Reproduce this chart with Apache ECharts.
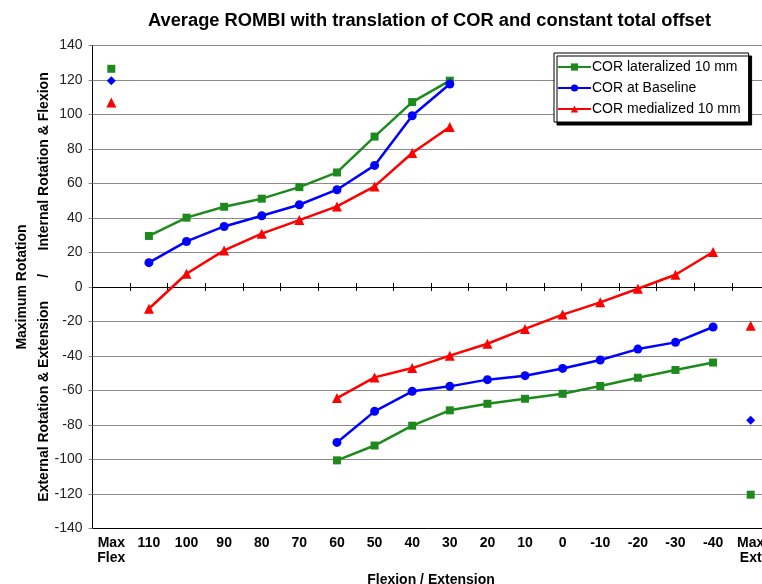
<!DOCTYPE html>
<html>
<head>
<meta charset="utf-8">
<script src="https://cdn.jsdelivr.net/npm/echarts@6/dist/echarts.min.js"></script>
<style>
html,body{margin:0;padding:0;background:#fff;}
#c{width:762px;height:584px;}
</style>
</head>
<body>
<div id="c"></div>
<script>
// Categories (Flexion / Extension angle)
const categories = ['Max\nFlex','110','100','90','80','70','60','50','40','30','20','10','0','-10','-20','-30','-40','Max\nExt'];
const flexCats = ['110','100','90','80','70','60','50','40','30'];
const extCats = ['60','50','40','30','20','10','0','-10','-20','-30','-40'];
const seriesNames = ['COR lateralized 10 mm','COR at Baseline','COR medialized 10 mm'];

// COR lateralized 10 mm
const latFlex = [29.6, 40.2, 46.5, 51.2, 57.9, 66.4, 87.2, 107.2, 119.6];
const latExt = [-100.5, -91.9, -80.4, -71.5, -67.7, -64.8, -61.9, -57.4, -52.6, -48.1, -43.8];
const latMax = [126.5, -120.4]; // Max Flex, Max Ext

// COR at Baseline
const baseFlex = [14.1, 26.4, 35.1, 41.3, 47.7, 56.4, 70.5, 99.3, 117.7];
const baseExt = [-90.1, -72.1, -60.5, -57.6, -53.7, -51.4, -47.2, -42.3, -36.0, -32.1, -23.2];
const baseMax = [119.6, -77.3];

// COR medialized 10 mm
const medFlex = [-12.6, 7.7, 21.2, 30.9, 38.8, 46.7, 58.3, 77.7, 92.8];
const medExt = [-64.4, -52.4, -47.0, -39.8, -32.9, -24.3, -16.0, -8.9, -1.0, 7.1, 20.3];
const medMax = [107.0, -22.4];

const yTicks = {min: -140, max: 140, interval: 20};

function place(cats, vals) {
  const arr = categories.map(() => null);
  cats.forEach((c, i) => { arr[categories.indexOf(c)] = vals[i]; });
  return arr;
}
function placeMax(vals) {
  const arr = categories.map(() => null);
  arr[0] = vals[0];
  arr[categories.length - 1] = vals[1];
  return arr;
}

const FONT = 'Liberation Sans, Arial, Helvetica, sans-serif';
const colors = ['#1E8A1E', '#0000FF', '#FF0000'];
const symbols = ['rect', 'circle', 'triangle'];
const symSizes = [8, 9, 10];
const maxSymbols = ['rect', 'diamond', 'triangle'];
const maxSizes = [8, 9, 10];
const flexData = [latFlex, baseFlex, medFlex];
const extData = [latExt, baseExt, medExt];
const maxData = [latMax, baseMax, medMax];

const series = [];
for (let k = 0; k < 3; k++) {
  const common = {
    name: seriesNames[k],
    type: 'line',
    xAxisIndex: 0,
    color: colors[k],
    symbol: symbols[k],
    symbolSize: symSizes[k],
    showAllSymbol: true,
    connectNulls: false,
    lineStyle: {width: 2.5, color: colors[k]},
    itemStyle: {color: colors[k], opacity: 1},
    emphasis: {disabled: true},
    animation: false
  };
  series.push(Object.assign({}, common, {data: place(flexCats, flexData[k])}));
  series.push(Object.assign({}, common, {data: place(extCats, extData[k])}));
}
for (let k = 0; k < 3; k++) {
  series.push({
    name: seriesNames[k],
    type: 'scatter',
    xAxisIndex: 0,
    symbol: maxSymbols[k],
    symbolSize: maxSizes[k],
    itemStyle: {color: colors[k], opacity: 1},
    data: placeMax(maxData[k]),
    emphasis: {disabled: true},
    animation: false
  });
}

const chart = echarts.init(document.getElementById('c'), null, {renderer: 'canvas'});
chart.setOption({
  animation: false,
  backgroundColor: '#fff',
  textStyle: {fontFamily: FONT},
  title: {
    text: 'Average ROMBI with translation of COR and constant total offset',
    left: 143, top: 7,
    textStyle: {fontFamily: FONT, fontSize: 18.3, fontWeight: 'bold', color: '#000'}
  },
  legend: {
    data: seriesNames,
    orient: 'vertical',
    left: 554, top: 53,
    padding: [7, 8, 6, 3],
    itemWidth: 33, itemHeight: 9,
    itemGap: 7,
    backgroundColor: '#fff',
    borderColor: '#000', borderWidth: 1,
    shadowColor: '#000', shadowBlur: 0, shadowOffsetX: 3, shadowOffsetY: 3,
    textStyle: {fontFamily: FONT, fontSize: 14, color: '#000', padding: [0, 0, 0, -4]}
  },
  grid: {left: 92.5, right: -7.5, top: 45.5, bottom: 55.5, containLabel: false, outerBoundsMode: 'none'},
  xAxis: [
    {
      type: 'category', data: categories, position: 'bottom', boundaryGap: true,
      axisLine: {onZero: false, lineStyle: {color: '#000', width: 1}},
      axisTick: {show: false},
      axisLabel: {interval: 0, margin: 7, fontFamily: FONT, fontSize: 14, fontWeight: 'bold', color: '#000', lineHeight: 15},
      name: 'Flexion / Extension', nameLocation: 'middle', nameGap: 45,
      nameTextStyle: {fontFamily: FONT, fontSize: 14, fontWeight: 'bold', color: '#000'},
      splitLine: {show: false}
    },
    {
      type: 'category', data: categories, position: 'bottom', boundaryGap: true,
      axisLine: {onZero: true, onZeroAxisIndex: 0, lineStyle: {color: '#000', width: 1}},
      axisTick: {show: true, inside: false, length: 4, interval: 0, lineStyle: {color: '#000'}},
      axisLabel: {show: false},
      splitLine: {show: false}
    },
    {
      type: 'category', data: categories, position: 'bottom', boundaryGap: true,
      axisLine: {show: true, onZero: true, onZeroAxisIndex: 0, lineStyle: {color: '#000', width: 1}},
      axisTick: {show: true, inside: true, length: 4, interval: 0, lineStyle: {color: '#000'}},
      axisLabel: {show: false},
      splitLine: {show: false}
    }
  ],
  yAxis: {
    type: 'value', min: yTicks.min, max: yTicks.max, interval: yTicks.interval,
    axisLine: {show: true, onZero: false, lineStyle: {color: '#000', width: 1}},
    axisTick: {show: true, length: 4, lineStyle: {color: '#888'}},
    axisLabel: {margin: 10, fontFamily: FONT, fontSize: 14, color: '#222'},
    splitLine: {show: true, lineStyle: {color: '#8a8a8a', width: 1}},
    name: 'Maximum Rotation\nExternal Rotation & Extension      /      Internal Rotation & Flexion',
    nameLocation: 'middle', nameRotate: 90, nameGap: 37, nameMoveOverlap: false,
    nameTextStyle: {fontFamily: FONT, fontSize: 14, fontWeight: 'bold', color: '#000', lineHeight: 22, align: 'center'}
  },
  series: series
});
</script>
</body>
</html>
